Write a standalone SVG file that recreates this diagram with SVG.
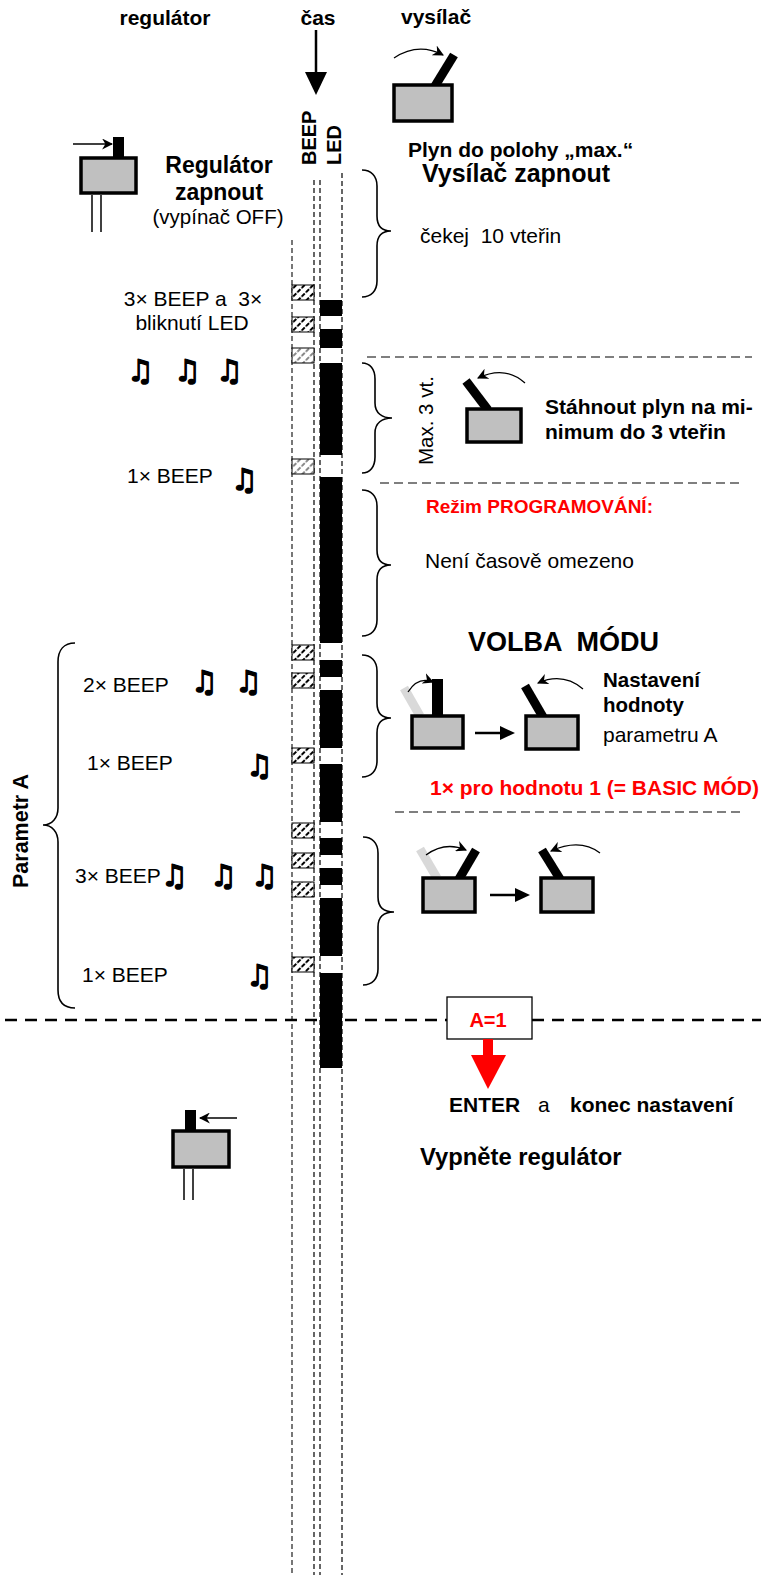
<svg xmlns="http://www.w3.org/2000/svg" width="761" height="1575" viewBox="0 0 761 1575">
<style>
text{font-family:"Liberation Sans",Arial,sans-serif;fill:#000}
.b{font-weight:bold}
.r{fill:#ff0000}
.t21{font-size:21px}
.note{font-family:"DejaVu Sans",sans-serif;font-weight:bold;font-size:30px;stroke:#000;stroke-width:1.4;stroke-linejoin:round}
.vd{stroke:#000;stroke-width:1.2;stroke-dasharray:5,3;fill:none}
.hd{stroke:#000;stroke-width:1.2;stroke-dasharray:9,5;fill:none}
.brace{fill:none;stroke:#000;stroke-width:1.6}
.box{fill:#c0c0c0;stroke:#000;stroke-width:3.5}
.stick{stroke:#000;stroke-width:9}
.gstick{stroke:#d9d9d9;stroke-width:9}
.arc{fill:none;stroke:#000;stroke-width:1.3}
.led{fill:#000}
.bp{fill:url(#hatch);stroke:#000;stroke-width:1}
.bpg{fill:url(#hatchg);stroke:#000;stroke-width:1}
</style>
<defs>
<marker id="ah" viewBox="0 0 10 10" refX="9" refY="5" markerWidth="11" markerHeight="11" markerUnits="userSpaceOnUse" orient="auto"><path d="M0,0 L10,5 L0,10 L3,5 z" fill="#000"/></marker>
<pattern id="hatch" patternUnits="userSpaceOnUse" width="6" height="6" patternTransform="rotate(45)"><rect width="6" height="6" fill="#fff"/><line x1="3" y1="0" x2="3" y2="6" stroke="#000" stroke-width="2" stroke-dasharray="2.5,1.5"/></pattern>
<pattern id="hatchg" patternUnits="userSpaceOnUse" width="6" height="6" patternTransform="rotate(45)"><rect width="6" height="6" fill="#fff"/><line x1="3" y1="0" x2="3" y2="6" stroke="#888" stroke-width="2" stroke-dasharray="2.5,1.5"/></pattern>
</defs>
<rect width="761" height="1575" fill="#fff"/>

<g id="headers">
<text class="b t21" x="165" y="25" text-anchor="middle">regulátor</text>
<text class="b t21" x="318" y="25" text-anchor="middle">čas</text>
<text class="b t21" x="401" y="24">vysílač</text>
</g>

<g id="time-arrow">
<line x1="316" y1="30" x2="316" y2="74" stroke="#000" stroke-width="2.5"/>
<polygon points="305,72 327,72 316,95" fill="#000"/>
</g>

<g id="column-labels">
<text class="b" font-size="20" transform="translate(316,165) rotate(-90)">BEEP</text>
<text class="b" font-size="20" transform="translate(341,165) rotate(-90)">LED</text>
</g>

<g id="timeline">
<line class="vd" x1="292" y1="240" x2="292" y2="1575" style="stroke:#555;stroke-width:1.6"/>
<line class="vd" x1="314" y1="180" x2="314" y2="1575"/>
<line class="vd" x1="320" y1="180" x2="320" y2="1575"/>
<line class="vd" x1="342" y1="173" x2="342" y2="1575"/>
</g>

<g id="separators">
<line class="hd" x1="367" y1="357" x2="752" y2="357"/>
<line class="hd" x1="380" y1="483" x2="740" y2="483"/>
<line class="hd" x1="395" y1="812" x2="740" y2="812"/>
<line x1="5" y1="1020" x2="447" y2="1020" stroke="#000" stroke-width="2.5" stroke-dasharray="12,8"/>
<line x1="532" y1="1020" x2="761" y2="1020" stroke="#000" stroke-width="2.5" stroke-dasharray="12,8"/>
</g>

<g id="led-bars">
<rect class="led" x="320" y="300" width="22" height="16"/>
<rect class="led" x="320" y="329" width="22" height="19"/>
<rect class="led" x="320" y="363" width="22" height="92"/>
<rect class="led" x="320" y="477" width="22" height="166"/>
<rect class="led" x="320" y="660" width="22" height="17"/>
<rect class="led" x="320" y="690" width="22" height="58"/>
<rect class="led" x="320" y="764" width="22" height="58"/>
<rect class="led" x="320" y="838" width="22" height="17"/>
<rect class="led" x="320" y="868" width="22" height="17"/>
<rect class="led" x="320" y="898" width="22" height="58"/>
<rect class="led" x="320" y="973" width="22" height="95"/>
</g>

<g id="beep-marks">
<rect class="bp" x="292" y="285" width="22" height="15"/>
<rect class="bp" x="292" y="317" width="22" height="15"/>
<rect class="bpg" x="292" y="348" width="22" height="15"/>
<rect class="bpg" x="292" y="459" width="22" height="15"/>
<rect class="bp" x="292" y="645" width="22" height="15"/>
<rect class="bp" x="292" y="673" width="22" height="15"/>
<rect class="bp" x="292" y="748" width="22" height="15"/>
<rect class="bp" x="292" y="823" width="22" height="15"/>
<rect class="bp" x="292" y="853" width="22" height="15"/>
<rect class="bp" x="292" y="882" width="22" height="15"/>
<rect class="bp" x="292" y="957" width="22" height="15"/>
</g>

<g id="braces">
<path class="brace" d="M362,170 C371,170 377,176 377,186 L377,216 C377,226 382,231 391,231 C382,231 377,236 377,246 L377,281 C377,291 371,297 362,297"/>
<path class="brace" d="M362,363 C370,363 375,369 375,379 L375,403 C375,413 382,418 392,418 C382,418 375,423 375,433 L375,457 C375,467 370,473 362,473"/>
<path class="brace" d="M362,490 C371,490 377,496 377,506 L377,550 C377,560 382,565 391,565 C382,565 377,570 377,580 L377,620 C377,630 371,636 362,636"/>
<path class="brace" d="M362,655 C371,655 377,661 377,671 L377,703 C377,713 382,718 391,718 C382,718 377,723 377,733 L377,761 C377,771 371,777 362,777"/>
<path class="brace" d="M363,837 C372,837 378,843 378,853 L378,897 C378,907 384,912 394,912 C384,912 378,917 378,927 L378,969 C378,979 372,985 363,985"/>
<path class="brace" d="M75,643 C64,643 58,650 58,662 L58,808 C58,818 52,825 43,825 C52,825 58,832 58,842 L58,990 C58,1002 64,1008 75,1008"/>
</g>

<g id="regulator-on">
<rect x="113" y="137" width="11" height="21" fill="#000"/>
<rect class="box" x="81" y="158" width="55" height="35"/>
<line x1="73" y1="144" x2="112" y2="144" stroke="#000" stroke-width="1.3" marker-end="url(#ah)"/>
<line x1="92" y1="195" x2="92" y2="232" stroke="#000" stroke-width="1.5"/>
<line x1="101" y1="195" x2="101" y2="232" stroke="#000" stroke-width="1.5"/>
<text class="b" font-size="23" x="219" y="173" text-anchor="middle">Regulátor</text>
<text class="b" font-size="23" x="219" y="200" text-anchor="middle">zapnout</text>
<text font-size="20.5" x="218" y="224" text-anchor="middle">(vypínač OFF)</text>
</g>

<g id="transmitter-max">
<line class="stick" x1="435" y1="86" x2="454" y2="55"/>
<rect class="box" x="394" y="85" width="58" height="36"/>
<path class="arc" d="M394,58 Q418,42 443,55" marker-end="url(#ah)"/>
<text class="b t21" x="408" y="157">Plyn do polohy „max.“</text>
<text class="b" font-size="25" x="422" y="182">Vysílač zapnout</text>
<text class="t21" x="420" y="243" xml:space="preserve">čekej  10 vteřin</text>
</g>

<g id="init-beeps">
<text class="t21" x="193" y="306" text-anchor="middle" xml:space="preserve">3× BEEP a  3×</text>
<text class="t21" x="192" y="330" text-anchor="middle">bliknutí LED</text>
<text class="note" x="127" y="381">♫</text>
<text class="note" x="174" y="381">♫</text>
<text class="note" x="216" y="381">♫</text>
</g>

<g id="throttle-min">
<text font-size="20.5" transform="translate(433,465) rotate(-90)">Max. 3 vt.</text>
<line class="stick" x1="488" y1="410" x2="466" y2="381"/>
<rect class="box" x="467" y="409" width="54" height="33"/>
<path class="arc" d="M525,383 Q505,365 478,378" marker-end="url(#ah)"/>
<text class="b t21" x="545" y="414">Stáhnout plyn na mi-</text>
<text class="b t21" x="545" y="439">nimum do 3 vteřin</text>
</g>

<g id="program-mode">
<text class="t21" x="127" y="483">1× BEEP</text>
<text class="note" x="231" y="490">♫</text>
<text class="b r" font-size="19" x="426" y="513">Režim PROGRAMOVÁNÍ:</text>
<text class="t21" x="425" y="568">Není časově omezeno</text>
</g>

<g id="mode-select">
<text class="b" font-size="27" x="468" y="651" xml:space="preserve">VOLBA  MÓDU</text>
<line class="gstick" x1="420" y1="716" x2="404" y2="688"/>
<rect x="432" y="679" width="11" height="38" fill="#000"/>
<rect class="box" x="412" y="716" width="51" height="32"/>
<path class="arc" d="M408,692 Q418,676 433,682" marker-end="url(#ah)"/>
<line x1="475" y1="733" x2="503" y2="733" stroke="#000" stroke-width="2.5"/>
<polygon points="500,726 515,733 500,740" fill="#000"/>
<line class="stick" x1="543" y1="717" x2="525" y2="686"/>
<rect class="box" x="526" y="716" width="52" height="33"/>
<path class="arc" d="M583,689 Q563,672 538,683" marker-end="url(#ah)"/>
<text class="b" font-size="20.5" x="603" y="687">Nastavení</text>
<text class="b" font-size="20.5" x="603" y="712">hodnoty</text>
<text class="t21" x="603" y="742">parametru A</text>
<text class="b r t21" x="430" y="795">1× pro hodnotu 1 (= BASIC MÓD)</text>
</g>

<g id="param-a">
<text class="b" font-size="21.5" transform="translate(28,888) rotate(-90)">Parametr A</text>
<text class="t21" x="83" y="692">2× BEEP</text>
<text class="note" x="191" y="692">♫</text>
<text class="note" x="235" y="692">♫</text>
<text class="t21" x="87" y="770">1× BEEP</text>
<text class="note" x="246" y="776">♫</text>
<text class="t21" x="75" y="883">3× BEEP</text>
<text class="note" x="161" y="886">♫</text>
<text class="note" x="210" y="886">♫</text>
<text class="note" x="251" y="886">♫</text>
<text class="t21" x="82" y="982">1× BEEP</text>
<text class="note" x="246" y="986">♫</text>
</g>

<g id="next-value">
<line class="gstick" x1="437" y1="878" x2="420" y2="849"/>
<line class="stick" x1="459" y1="879" x2="476" y2="850"/>
<rect class="box" x="423" y="878" width="52" height="34"/>
<path class="arc" d="M426,855 Q445,841 466,850" marker-end="url(#ah)"/>
<line x1="490" y1="895" x2="518" y2="895" stroke="#000" stroke-width="2.5"/>
<polygon points="515,888 530,895 515,902" fill="#000"/>
<line class="stick" x1="560" y1="879" x2="542" y2="850"/>
<rect class="box" x="541" y="878" width="52" height="34"/>
<path class="arc" d="M600,853 Q580,838 551,851" marker-end="url(#ah)"/>
</g>

<g id="enter">
<rect x="447" y="997" width="85" height="42" fill="#fff" stroke="#000" stroke-width="1.3"/>
<text class="b r" font-size="20" x="488" y="1027" text-anchor="middle">A=1</text>
<rect x="483" y="1039" width="10" height="17" fill="#ff0000"/>
<polygon points="471,1055 506,1055 488,1089" fill="#ff0000"/>
<text class="b t21" x="449" y="1112">ENTER</text>
<text class="t21" x="538" y="1112">a</text>
<text class="b t21" x="570" y="1112">konec nastavení</text>
<text class="b" font-size="23.8" x="420" y="1165">Vypněte regulátor</text>
</g>

<g id="regulator-off">
<rect x="185" y="1110" width="11" height="22" fill="#000"/>
<rect class="box" x="173" y="1131" width="56" height="36"/>
<line x1="237" y1="1118" x2="200" y2="1118" stroke="#000" stroke-width="1.3" marker-end="url(#ah)"/>
<line x1="184" y1="1169" x2="184" y2="1200" stroke="#000" stroke-width="1.5"/>
<line x1="193" y1="1169" x2="193" y2="1200" stroke="#000" stroke-width="1.5"/>
</g>
</svg>
